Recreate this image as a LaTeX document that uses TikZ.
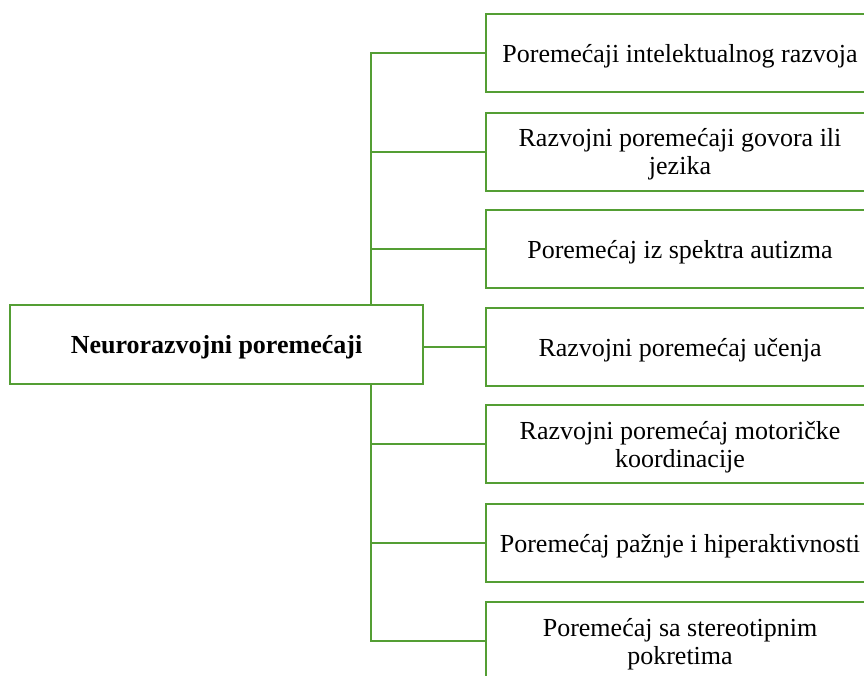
\documentclass[tikz,border=0pt]{standalone}
\usepackage{fontspec}
\setmainfont{Liberation Serif}
\definecolor{boxgreen}{RGB}{84,158,52}
\tikzset{
  link/.style={draw=boxgreen, line width=2pt},
  catbox/.style={link, fill=white, minimum width=388pt, minimum height=78pt,
    inner sep=0pt, align=center, text depth=0pt, font=\fontsize{26}{28}\selectfont},
  mainbox/.style={catbox, minimum width=413pt, minimum height=79pt,
    font=\fontsize{26}{28}\selectfont\bfseries}
}
\begin{document}
\begin{tikzpicture}[x=1pt, y=-1pt]
        \useasboundingbox (0,0) rectangle (864,675);
        \clip (0,0) rectangle (864,675);

        % main box and the categories
        \node[mainbox] (main) at (216.5,344.5) {Neurorazvojni poremećaji};
        \node[catbox] (intel) at (680,53) {Poremećaji intelektualnog razvoja};
        \node[catbox] (govor) at (680,151.5) {Razvojni poremećaji govora ili\\jezika};
        \node[catbox] (autizam) at (680,249) {Poremećaj iz spektra autizma};
        \node[catbox] (ucenje) at (680,347) {Razvojni poremećaj učenja};
        \node[catbox] (motor) at (680,444) {Razvojni poremećaj motoričke\\koordinacije};
        \node[catbox] (adhd) at (680,543) {Poremećaj pažnje i hiperaktivnosti};
        \node[catbox] (stereo) at (680,641) {Poremećaj sa stereotipnim\\pokretima};

        % trunk
        \coordinate (ttop) at (371,53);
        \coordinate (tbottom) at (371,641);
        \draw[link] (main.north -| ttop) -- (ttop) -- (intel.west);
        \draw[link] (main.south -| tbottom) -- (tbottom) -- (stereo.west);
        \draw[link] (govor.west) -- (govor.west -| ttop);
        \draw[link] (autizam.west) -- (autizam.west -| ttop);
        \draw[link] (main.east |- ucenje.west) -- (ucenje.west);
        \draw[link] (motor.west) -- (motor.west -| ttop);
        \draw[link] (adhd.west) -- (adhd.west -| ttop);
      \end{tikzpicture}
\end{document}
